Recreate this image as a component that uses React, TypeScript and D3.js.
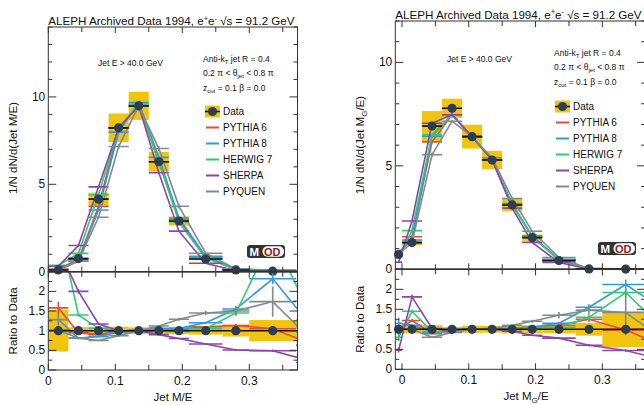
import React from 'react';
import * as d3 from 'd3';

const W = 644;
const H = 405;
const FONT = '"Liberation Sans", Arial, Helvetica, sans-serif';

const generators = ['PYTHIA 6', 'PYTHIA 8', 'HERWIG 7', 'SHERPA', 'PYQUEN'];
const genColors = ['#e74c3c', '#3498db', '#2ecc71', '#8e44ad', '#7f8c8d'];
const yellow = '#f1c40f';
const dotColor = '#2c3e50';

// ---- left: Jet M/E (last bin sits past the right edge)
const edgesL = [0, 0.03, 0.06, 0.09, 0.12, 0.15, 0.18, 0.21, 0.26, 0.3, 0.37, 0.43];
const dataL = [0.1, 0.75, 4.15, 8.23, 9.49, 6.29, 2.9, 0.73, 0.1, 0.03, 0.01];
const dataErrL = [0.53, 0.09, 0.09, 0.1, 0.085, 0.09, 0.09, 0.1, 0.15, 0.27, 0.3];
// MC / data
const p6L = [1.58, 0.95, 0.9, 1.0, 1.0, 1.0, 1.03, 1.1, 1.13, 1.05, 0.62];
const p8L = [1.02, 0.81, 0.85, 0.97, 1.02, 1.04, 1.06, 1.2, 1.55, 2.32, 0.96];
const h7L = [3.7, 1.4, 1.06, 1.0, 1.01, 1.0, 0.98, 1.05, 1.45, 3.4, 1.1];
const shL = [3.1, 2.0, 1.17, 1.0, 1.0, 0.9, 0.8, 0.66, 0.51, 0.49, 0.19];
const pqL = [1.28, 0.81, 0.75, 0.87, 1.0, 1.12, 1.29, 1.45, 1.5, 1.74, 0.64];
const mcErrL = [0.1, 0.03, 0.01, 0.01, 0.01, 0.01, 0.01, 0.02, 0.04, 0.06, 0.1];
const pqErrL = [0.12, 0.04, 0.02, 0.02, 0.02, 0.02, 0.03, 0.04, 0.08, 0.22, 0.3];

// ---- right: Jet M_G/E
const edgesR = [-0.01, 0, 0.03, 0.06, 0.09, 0.12, 0.15, 0.18, 0.21, 0.26, 0.3, 0.37, 0.43];
const dataR = [0.72, 1.29, 6.92, 7.78, 6.41, 5.28, 3.11, 1.53, 0.42, 0.02, 0.01, 0.005];
const dataErrR = [0.1, 0.1, 0.105, 0.06, 0.09, 0.085, 0.1, 0.1, 0.1, 0.16, 0.45, 0.5];
const p6R = [1.0, 1.22, 0.89, 0.96, 1.0, 1.0, 1.0, 1.05, 1.1, 1.25, 0.98, 0.53];
const p8R = [1.15, 1.1, 0.93, 0.96, 1.0, 1.0, 1.02, 1.05, 1.15, 1.55, 2.12, 1.4];
const h7R = [0.8, 1.45, 0.94, 0.96, 1.0, 1.0, 1.0, 1.02, 1.05, 1.3, 1.92, 0.87];
const shR = [0.48, 1.81, 1.02, 0.96, 1.0, 1.0, 0.95, 0.85, 0.78, 0.6, 0.47, 0.2];
const pqR = [1.0, 1.0, 0.8, 0.92, 1.0, 1.02, 1.1, 1.2, 1.35, 1.48, 1.42, 0.64];
const mcErrR = [0.12, 0.03, 0.01, 0.01, 0.01, 0.01, 0.01, 0.02, 0.03, 0.05, 0.06, 0.1];
const pqErrR = [0.1, 0.04, 0.02, 0.01, 0.01, 0.01, 0.02, 0.03, 0.06, 0.08, 0.4, 0.4];

const xTickLabels = [0, 0.1, 0.2, 0.3];
const ratioTickLabels = [0, 0.5, 1, 1.5, 2];

const near = (v: number, step: number) => Math.abs(v / step - Math.round(v / step)) < 1e-6;

function Series({ x, y, bins, centers, vals, errs, color }: any) {
  const line = d3.line<number>().x((_, i) => x(centers[i])).y((v) => y(v));
  return (
    <g stroke={color} strokeWidth={1.6} fill="none">
      <path d={line(vals) || ''} />
      {bins.map(([a, b]: number[], i: number) => (
        <line key={'h' + i} x1={x(a)} x2={x(b)} y1={y(vals[i])} y2={y(vals[i])} />
      ))}
      {vals.map((v: number, i: number) => (
        <line key={'v' + i} x1={x(centers[i])} x2={x(centers[i])} y1={y(v - errs[i])} y2={y(v + errs[i])} />
      ))}
    </g>
  );
}

function Frame({ x, y, left, right, top, bottom, yMinor, yMajor, yMax }: any) {
  const [d0, d1] = x.domain();
  const xt = d3.range(Math.ceil(d0 / 0.05) * 0.05, d1 + 1e-9, 0.05);
  const yt = d3.range(0, yMax + 1e-9, yMinor);
  return (
    <g stroke="#333" strokeWidth={1}>
      <rect x={left} y={top} width={right - left} height={bottom - top} fill="none" />
      {xt.map((v, i) => {
        const len = near(v, 0.1) ? 6 : 5;
        return (
          <g key={'x' + i}>
            <line x1={x(v)} x2={x(v)} y1={top} y2={top + len} />
            <line x1={x(v)} x2={x(v)} y1={bottom} y2={bottom - len} />
          </g>
        );
      })}
      {yt.map((v, i) => {
        const len = near(v, yMajor) ? 8 : 4;
        return (
          <g key={'y' + i}>
            <line x1={left} x2={left + len} y1={y(v)} y2={y(v)} />
            <line x1={right} x2={right - len} y1={y(v)} y2={y(v)} />
          </g>
        );
      })}
    </g>
  );
}

function ModLogo({ x, y }: { x: number; y: number }) {
  return (
    <g fontFamily={FONT} fontWeight="bold">
      <rect x={x} y={y} width={38} height={13} rx={3} fill="#333" />
      <rect x={x + 15.5} y={y + 1.3} width={21.5} height={10.4} rx={5} fill="#fff" />
      <text x={x + 2.5} y={y + 11} fontSize={11.5} fill="#fff">M</text>
      <text x={x + 17} y={y + 10.6} fontSize={11} fill="#8b1c1c">OD</text>
    </g>
  );
}

function Panel(p: any) {
  const x = d3.scaleLinear().domain(p.xDomain).range(p.xRange);
  const [left, right] = p.xRange;
  const yT = d3.scaleLinear().domain([0, p.yMax]).range([p.zero, p.top]);
  const yR = d3.scaleLinear().domain([0, 2.5]).range([p.bottom, p.zero]);
  const bins = d3.pairs(p.edges) as [number, number][];
  const centers = bins.map(([a, b]) => (a + b) / 2);
  const visible = centers.map((c) => c >= p.xDomain[0] && c <= p.xDomain[1]);
  const ratios = [p.p6, p.p8, p.h7, p.sh, p.pq];
  const errsRel = [p.mcErr, p.mcErr, p.mcErr, p.mcErr, p.pqErr];
  const id = p.id;
  const fs = 12;

  return (
    <g fontFamily={FONT}>
      <defs>
        <clipPath id={id + 'top'}>
          <rect x={left} y={p.top} width={right - left} height={p.zero - p.top} />
        </clipPath>
        <clipPath id={id + 'rat'}>
          <rect x={left} y={p.zero} width={right - left} height={p.bottom - p.zero} />
        </clipPath>
      </defs>

      {/* main distribution */}
      <g clipPath={`url(#${id}top)`}>
        {bins.map(([a, b], i) => (
          <rect key={i} x={x(a)} width={x(b) - x(a)}
            y={yT(p.data[i] * (1 + p.dataErr[i]))}
            height={Math.max(yT(p.data[i] * (1 - p.dataErr[i])) - yT(p.data[i] * (1 + p.dataErr[i])), 1.5)}
            fill={yellow} />
        ))}
        {ratios.map((r: number[], k: number) => {
          const vals = r.map((v, i) => v * p.data[i]);
          return (
            <Series key={k} x={x} y={yT} bins={bins} centers={centers} vals={vals}
              errs={vals.map((v, i) => v * errsRel[k][i])} color={genColors[k]} />
          );
        })}
        {bins.map(([a, b], i) => (
          <line key={i} x1={x(a)} x2={x(b)} y1={yT(p.data[i])} y2={yT(p.data[i])} stroke="#111" strokeWidth={1.6} />
        ))}
      </g>
      {centers.map((c, i) => visible[i] ? (
        <circle key={i} cx={x(c)} cy={yT(p.data[i])} r={4.6} fill={dotColor} />
      ) : null)}

      {/* ratio */}
      <g clipPath={`url(#${id}rat)`}>
        {bins.map(([a, b], i) => (
          <rect key={i} x={x(a)} width={x(b) - x(a)}
            y={yR(1 + p.dataErr[i])} height={yR(1 - p.dataErr[i]) - yR(1 + p.dataErr[i])} fill={yellow} />
        ))}
        {ratios.map((r: number[], k: number) => (
          <Series key={k} x={x} y={yR} bins={bins} centers={centers} vals={r}
            errs={r.map((v, i) => v * errsRel[k][i])} color={genColors[k]} />
        ))}
        <line x1={left} x2={right} y1={yR(1)} y2={yR(1)} stroke="#111" strokeWidth={1.6} />
      </g>
      {centers.map((c, i) => visible[i] ? (
        <circle key={i} cx={x(c)} cy={yR(1)} r={4.6} fill={dotColor} />
      ) : null)}

      <Frame x={x} y={yT} left={left} right={right} top={p.top} bottom={p.zero} yMinor={1} yMajor={5} yMax={p.yMax} />
      <Frame x={x} y={yR} left={left} right={right} top={p.zero} bottom={p.bottom} yMinor={0.25} yMajor={0.5} yMax={2.5} />
      <line x1={left} x2={right} y1={p.zero} y2={p.zero} stroke="#333" strokeWidth={1.5} />

      {/* tick labels */}
      {p.yLabels.map((v: number) => (
        <text key={v} x={left - 3} y={yT(v) + 4} fontSize={fs} textAnchor="end" fill="#111">{v}</text>
      ))}
      {ratioTickLabels.map((v) => (
        <text key={v} x={left - 3} y={yR(v) + 4} fontSize={fs} textAnchor="end" fill="#111">{v}</text>
      ))}
      {xTickLabels.map((v) => (
        <text key={v} x={x(v)} y={p.bottom + 15} fontSize={fs} textAnchor="middle" fill="#111">{v}</text>
      ))}

      {/* titles */}
      <text x={left} y={p.titleY} fontSize={11.6} fill="#111">
        ALEPH Archived Data 1994, e<tspan dy={-4.5} fontSize={7.5}>+</tspan><tspan dy={4.5}>e</tspan>
        <tspan dy={-4.5} fontSize={7.5}>-</tspan><tspan dy={4.5}> √s = 91.2 GeV</tspan>
      </text>
      <text transform={`translate(${left - 31},${p.yTitleMid}) rotate(-90)`} fontSize={11.5} textAnchor="middle" fill="#111">
        {p.yTitle}
      </text>
      <text transform={`translate(${left - 31},${yR(1.25)}) rotate(-90)`} fontSize={11.5} textAnchor="middle" fill="#111">
        Ratio to Data
      </text>
      <text x={p.xTitleMid} y={p.bottom + 31} fontSize={11.5} textAnchor="middle" fill="#111">{p.xTitle}</text>

      {/* annotations */}
      <g fontSize={8.5} fill="#111">
        <text x={p.cutX} y={p.cutY}>Jet E &gt; 40.0 GeV</text>
        <text x={p.infoX} y={p.infoY}>Anti-k<tspan dy={2} fontSize={6}>T</tspan><tspan dy={-2}> jet R = 0.4</tspan></text>
        <text x={p.infoX} y={p.infoY + 14}>0.2 π &lt; θ<tspan dy={2} fontSize={6}>jet</tspan><tspan dy={-2}> &lt; 0.8 π</tspan></text>
        <text x={p.infoX} y={p.infoY + 29}>z<tspan dy={2} fontSize={6}>cut</tspan><tspan dy={-2}> = 0.1 β = 0.0</tspan></text>
      </g>

      {/* legend */}
      <g fontSize={10} fill="#111">
        <rect x={p.legX} y={p.legY - 6} width={15} height={12} fill={yellow} />
        <line x1={p.legX} x2={p.legX + 15} y1={p.legY} y2={p.legY} stroke="#111" strokeWidth={1.6} />
        <circle cx={p.legX + 7.5} cy={p.legY} r={4.6} fill={dotColor} />
        <text x={p.legX + 18} y={p.legY + 3.7}>Data</text>
        {generators.map((g, k) => {
          const yy = p.legY + 16 * (k + 1);
          return (
            <g key={g}>
              <line x1={p.legX + 1} x2={p.legX + 14} y1={yy} y2={yy} stroke={genColors[k]} strokeWidth={2} />
              <text x={p.legX + 18} y={yy + 3.7}>{g}</text>
            </g>
          );
        })}
      </g>

      <ModLogo x={p.logoX} y={p.logoY} />
    </g>
  );
}

export default function App() {
  return (
    <svg width={W} height={H} style={{ position: 'absolute', left: 0, top: 0, background: '#fff' }}>
      <rect width={W} height={H} fill="#fff" />
      <Panel id="l" xDomain={[0, 0.372]} xRange={[48.3, 297.5]} top={27} zero={271.7} bottom={370} yMax={14}
        yLabels={[0, 5, 10]} edges={edgesL} data={dataL} dataErr={dataErrL}
        p6={p6L} p8={p8L} h7={h7L} sh={shL} pq={pqL} mcErr={mcErrL} pqErr={pqErrL}
        titleY={25} yTitle="1/N dN/d(Jet M/E)" yTitleMid={148}
        xTitle="Jet M/E" xTitleMid={173}
        cutX={98} cutY={66} infoX={203} infoY={61.5} legX={205} legY={111.5}
        logoX={247} logoY={245} />
      <Panel id="r" xDomain={[-0.01, 0.364]} xRange={[395.3, 645.1]} top={21} zero={269.3} bottom={369.3} yMax={12}
        yLabels={[0, 5, 10]} edges={edgesR} data={dataR} dataErr={dataErrR}
        p6={p6R} p8={p8R} h7={h7R} sh={shR} pq={pqR} mcErr={mcErrR} pqErr={pqErrR}
        titleY={18.5}
        yTitle={<>1/N dN/d(Jet M<tspan dy={2.5} fontSize={8}>G</tspan><tspan dy={-2.5}>/E)</tspan></>}
        yTitleMid={145}
        xTitle={<>Jet M<tspan dy={2.5} fontSize={8}>G</tspan><tspan dy={-2.5}>/E</tspan></>} xTitleMid={526}
        cutX={447} cutY={61.5} infoX={554} infoY={56} legX={555} legY={106.5}
        logoX={598} logoY={242} />
    </svg>
  );
}
